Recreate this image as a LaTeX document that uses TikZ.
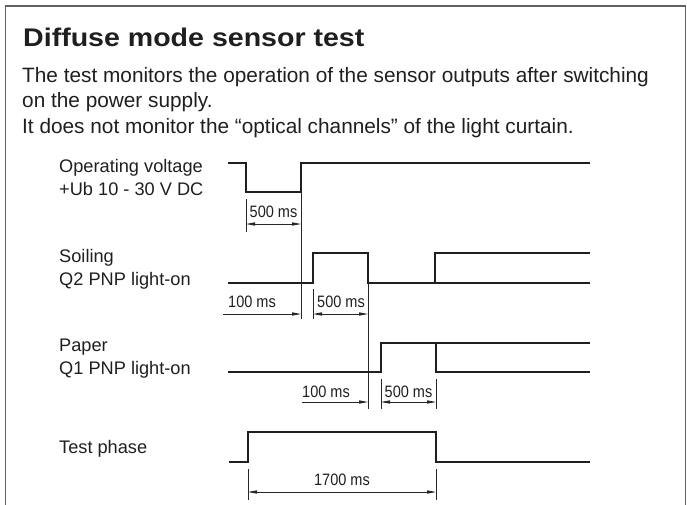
\documentclass[tikz,border=0pt]{standalone}
\usepackage{fontspec}
\setmainfont{Liberation Sans}
\newfontfamily\dimfont[FakeStretch=0.88]{Liberation Sans}
\newfontfamily\titlefont[FakeStretch=1.12]{Liberation Sans}
\usetikzlibrary{arrows.meta}
\begin{document}
\begin{tikzpicture}[x=1pt,y=-1pt,
  sig/.style={line width=2.4pt,color=black!88,line join=miter},
  thin/.style={line width=0.8pt,color=black!85},
  dimline/.style={line width=0.8pt,color=black!85},
  dimarr/.style={dimline,{Triangle[length=9pt,width=3.2pt]}-{Triangle[length=9pt,width=3.2pt]}},
  dimarrR/.style={dimline,-{Triangle[length=9pt,width=3.2pt]}},
  lbl/.style={anchor=base west,inner sep=0pt,text=black!88,font=\fontsize{18.2}{21}\selectfont},
  body/.style={anchor=base west,inner sep=0pt,text=black!88,font=\fontsize{20.8}{24}\selectfont},
  dtxt/.style={anchor=base,inner sep=0pt,text=black!88,font=\dimfont\fontsize{16.5}{18}\selectfont},
  frame/.style={line width=1.6pt,color=black!62}]
\useasboundingbox (0,0) rectangle (687,504);
\draw[frame] (5.5,506) -- (5.5,6) -- (685.5,6) -- (685.5,506);
% texts
\node[anchor=base west,inner sep=0pt,text=black!88,font=\titlefont\fontsize{25.5}{30}\bfseries] (title) at (23,46) {Diffuse mode sensor test};
\node[body] (l1) at (22,82) {The test monitors the operation of the sensor outputs after switching};
\node[body] (l2) at (22,107.5) {on the power supply.};
\node[body] (l3) at (22,133) {It does not monitor the “optical channels” of the light curtain.};
\node[lbl] (opv1) at (59,172) {Operating voltage};
\node[lbl] (opv2) at (59,195) {+Ub 10 - 30 V DC};
\node[lbl] (soil1) at (59,262) {Soiling};
\node[lbl] (soil2) at (59,285) {Q2 PNP light-on};
\node[lbl] (pap1) at (59,351) {Paper};
\node[lbl] (pap2) at (59,374) {Q1 PNP light-on};
\node[lbl] (tp) at (59,453) {Test phase};
% operating voltage
\draw[sig] (228,163) -- (246,163) -- (246,192) -- (301,192) -- (301,163) -- (590,163);
\coordinate (a1) at (246,224); \coordinate (a2) at (301,224);
\draw[thin] (246,199) -- (246,232);
\draw[thin] (301,192) -- (301,319);
\draw[dimarr] (a1) -- (a2);
\node[dtxt] (t500a) at (273.5,217) {500 ms};
% soiling
\draw[sig] (228,283) -- (313,283) -- (313,253) -- (368,253) -- (368,283) -- (435,283) -- (435,253) -- (590,253);
\draw[sig] (435,283) -- (590,283);
\coordinate (b0) at (223,314); \coordinate (b1) at (301,314);
\coordinate (b2) at (313,314); \coordinate (b3) at (368,314);
\draw[dimarrR] (b0) -- (b1);
\draw[thin] (313,289) -- (313,319);
\draw[thin] (368,283) -- (368,409);
\draw[dimarr] (b2) -- (b3);
\node[dtxt] (t100a) at (252,307) {100 ms};
\node[dtxt] (t500b) at (341,307) {500 ms};
% paper
\draw[sig] (228,372) -- (381,372) -- (381,343) -- (590,343);
\draw[sig] (436,343) -- (436,372) -- (590,372);
\coordinate (c0) at (302,402); \coordinate (c1) at (368,402);
\coordinate (c2) at (381,402); \coordinate (c3) at (436,402);
\draw[dimarrR] (c0) -- (c1);
\draw[thin] (381,379) -- (381,409);
\draw[thin] (436,379) -- (436,409);
\draw[dimarr] (c2) -- (c3);
\node[dtxt] (t100b) at (326,397) {100 ms};
\node[dtxt] (t500c) at (408.5,397) {500 ms};
% test phase
\draw[sig] (229,462) -- (248,462) -- (248,432) -- (436,432) -- (436,462) -- (590,462);
\coordinate (d1) at (248,492); \coordinate (d2) at (436,492);
\draw[thin] (248,469) -- (248,500);
\draw[thin] (436,469) -- (436,500);
\draw[dimarr] (d1) -- (d2);
\node[dtxt] (t1700) at (342,485) {1700 ms};
\end{tikzpicture}
\end{document}
